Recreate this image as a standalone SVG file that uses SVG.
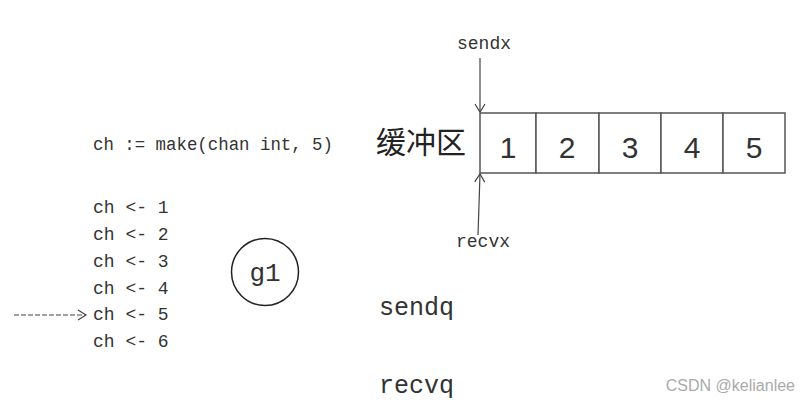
<svg xmlns="http://www.w3.org/2000/svg" width="810" height="402" viewBox="0 0 810 402">
<defs>
<style>
.code{font-family:"Liberation Mono","DejaVu Sans Mono",monospace;fill:#333;}
.cell{fill:#fff;stroke:#555;stroke-width:1.5;}
.num{font-family:"Liberation Sans","DejaVu Sans",sans-serif;font-size:30px;fill:#333;text-anchor:middle;}
.ln{stroke:#444;stroke-width:1.2;fill:none;}
</style>
<marker id="ah" markerWidth="12" markerHeight="12" refX="10" refY="6" orient="auto" markerUnits="userSpaceOnUse">
<path d="M2,1 L10,6 L2,11" fill="none" stroke="#444" stroke-width="1.2"/>
</marker>
</defs>
<rect width="810" height="402" fill="#fff"/>
<g id="code">
<text class="code" x="93" y="150" font-size="18" textLength="240" lengthAdjust="spacingAndGlyphs">ch := make(chan int, 5)</text>
<text class="code" x="93" y="213" font-size="18">ch &lt;- 1</text>
<text class="code" x="93" y="240" font-size="18">ch &lt;- 2</text>
<text class="code" x="93" y="267" font-size="18">ch &lt;- 3</text>
<text class="code" x="93" y="294" font-size="18">ch &lt;- 4</text>
<text class="code" x="93" y="320" font-size="18">ch &lt;- 5</text>
<text class="code" x="93" y="347" font-size="18">ch &lt;- 6</text>
</g>
<g id="g1">
<circle cx="265" cy="272" r="33.5" fill="none" stroke="#222" stroke-width="1.5"/>
<text class="code" x="265" y="281" font-size="26" text-anchor="middle">g1</text>
</g>
<g id="buffer">
<text x="421" y="153" font-family="'Noto Sans CJK SC',sans-serif" font-size="30" text-anchor="middle" fill="#222">缓冲区</text>
<rect class="cell" x="480" y="113" width="56" height="60"/>
<rect class="cell" x="536" y="113" width="63" height="60"/>
<rect class="cell" x="599" y="113" width="62" height="60"/>
<rect class="cell" x="661" y="113" width="62" height="60"/>
<rect class="cell" x="723" y="113" width="62" height="60"/>
<text class="num" x="508" y="158">1</text>
<text class="num" x="567" y="158">2</text>
<text class="num" x="630" y="158">3</text>
<text class="num" x="692" y="158">4</text>
<text class="num" x="754" y="158">5</text>
</g>
<g id="sendx">
<text class="code" x="484" y="49" font-size="18" text-anchor="middle">sendx</text>
</g>
<g id="recvx">
<text class="code" x="483" y="247" font-size="18" text-anchor="middle">recvx</text>
</g>
<g id="sendq"><text class="code" x="379" y="315" font-size="25">sendq</text></g>
<g id="recvq"><text class="code" x="379" y="393" font-size="25">recvq</text></g>
<g id="connectors">
<line class="ln" x1="480" y1="58" x2="480" y2="112" marker-end="url(#ah)"/>
<line class="ln" x1="478" y1="235" x2="480" y2="174" marker-end="url(#ah)"/>
<line class="ln" x1="14" y1="315" x2="86" y2="315" stroke-dasharray="5,2" marker-end="url(#ah)"/>
</g>
<text x="795" y="391" font-family="'Liberation Sans',sans-serif" font-size="16" fill="#aaa" text-anchor="end">CSDN @kelianlee</text>
</svg>
